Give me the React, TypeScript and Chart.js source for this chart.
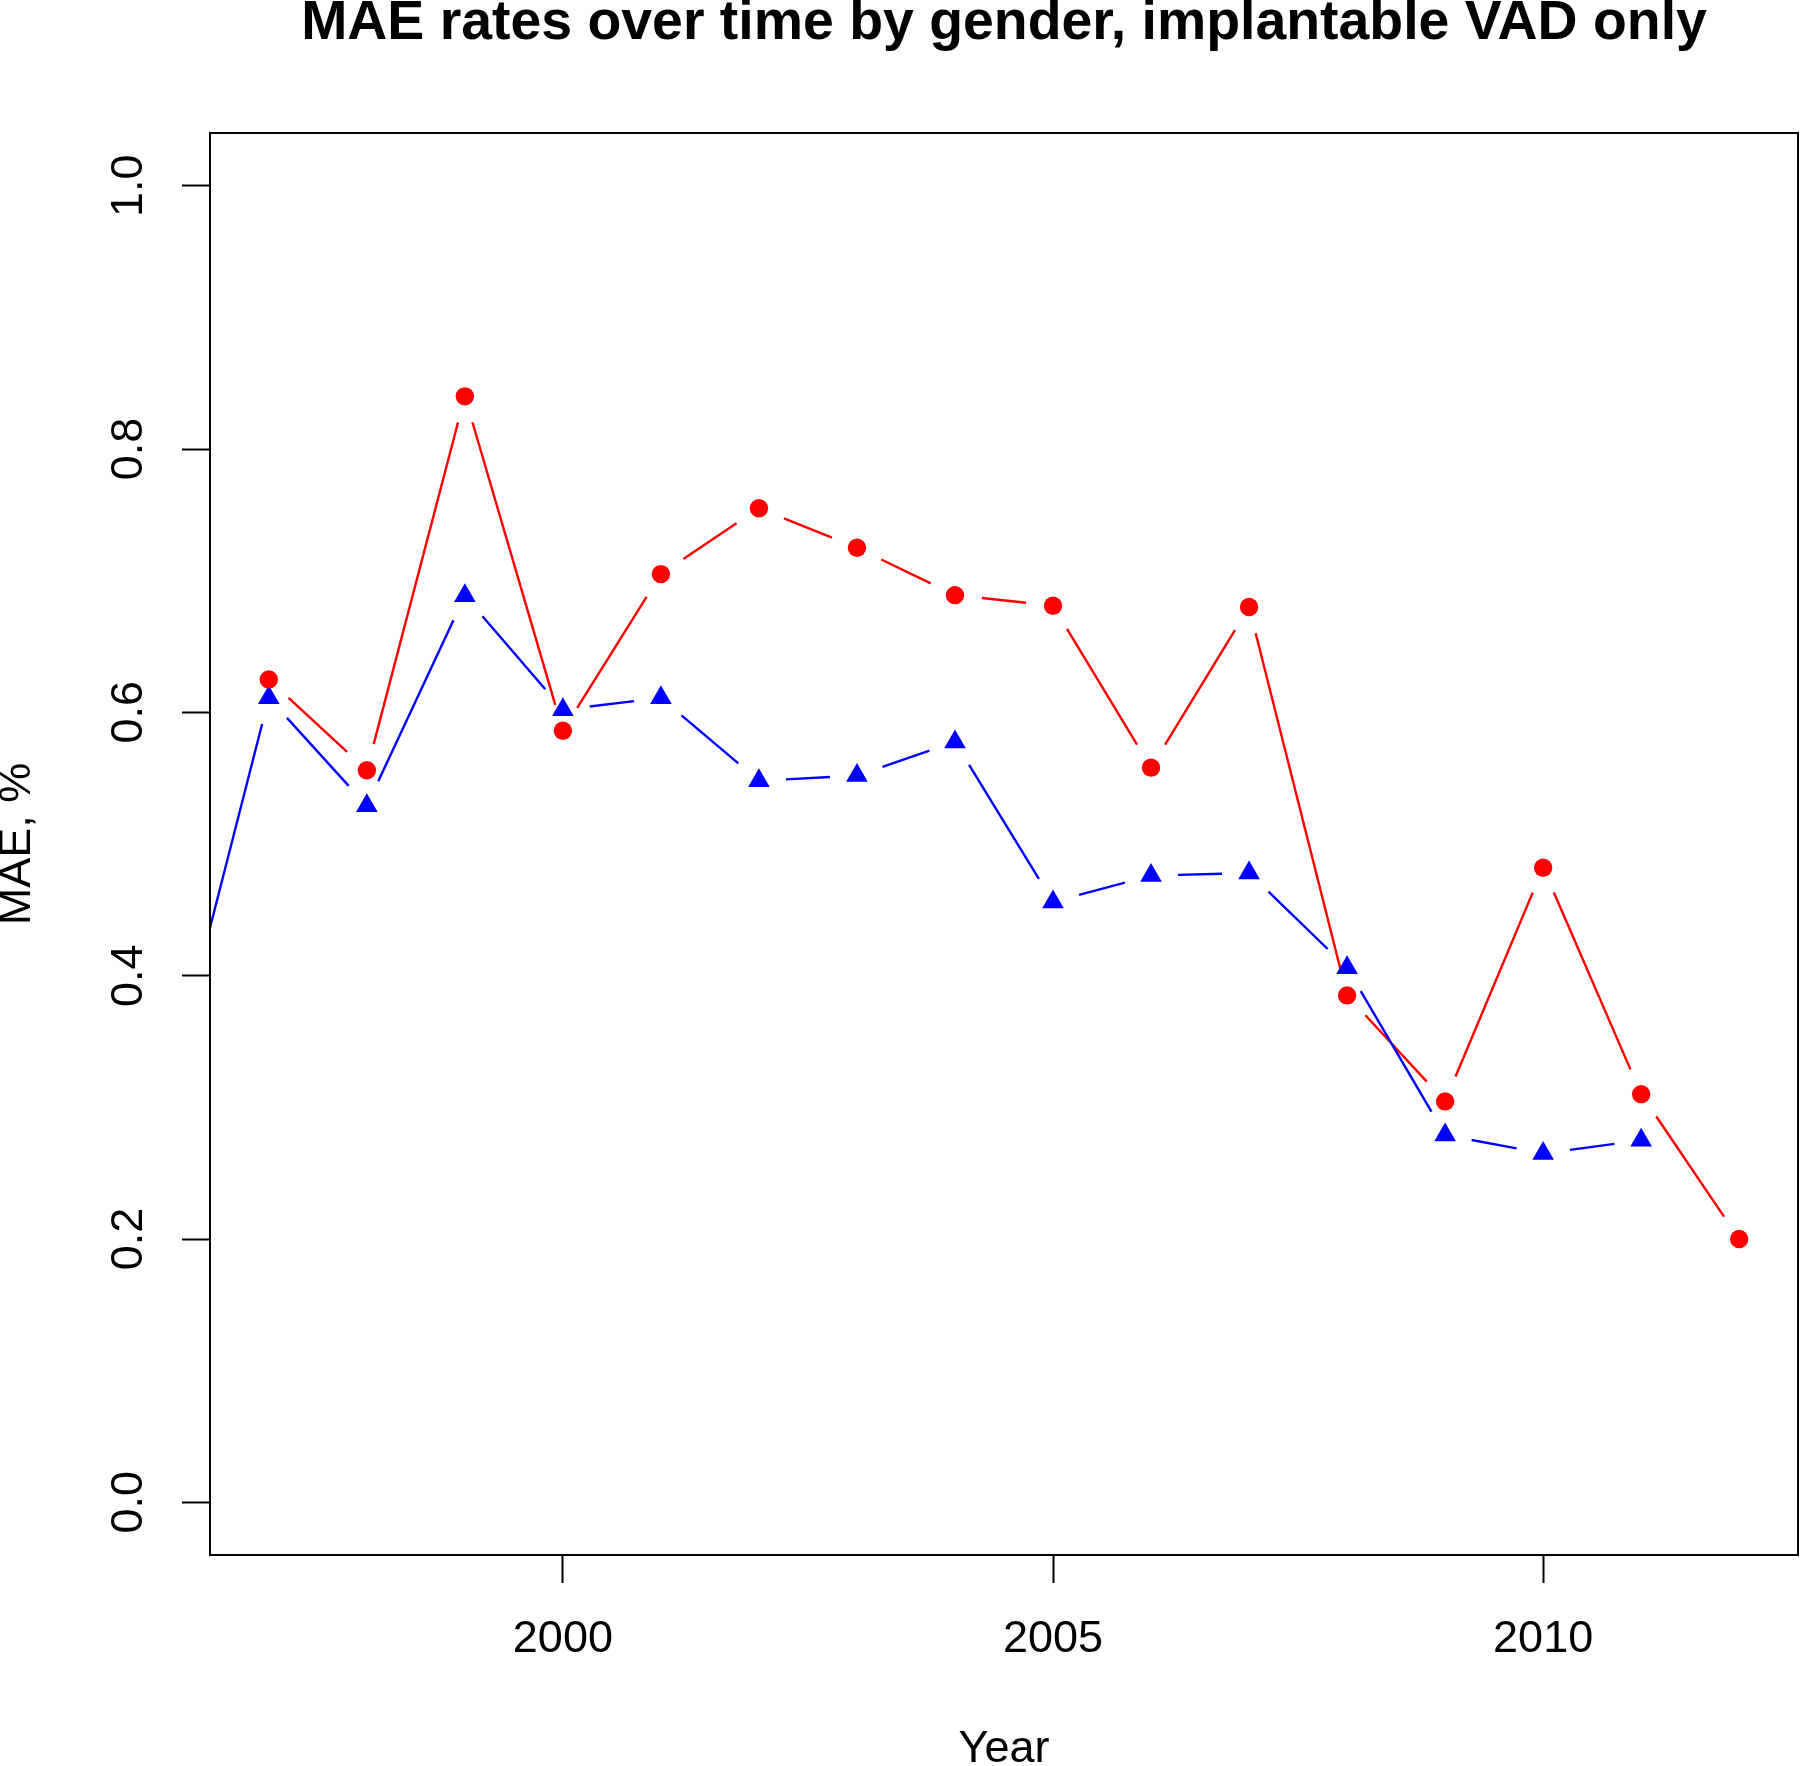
import React, { useEffect, useRef } from "react";
import { Chart, registerables } from "chart.js";

Chart.register(...registerables);

// ---- Data ----
const TITLE = "MAE rates over time by gender, implantable VAD only";
const X_LABEL = "Year";
const Y_LABEL = "MAE, %";

const years = [1996, 1997, 1998, 1999, 2000, 2001, 2002, 2003, 2004, 2005, 2006, 2007, 2008, 2009, 2010, 2011, 2012];
// red circles
const redCircleSeries = [null, 0.625, 0.556, 0.84, 0.586, 0.705, 0.755, 0.725, 0.689, 0.681, 0.558, 0.68, 0.385, 0.3045, 0.482, 0.31, 0.2];
// blue triangles
const blueTriangleSeries = [0.32, 0.611, 0.529, 0.6885, 0.602, 0.611, 0.548, 0.552, 0.5775, 0.456, 0.476, 0.478, 0.406, 0.279, 0.265, 0.275, null];

const xTickValues = [2000, 2005, 2010];
const yTickValues = [0, 0.2, 0.4, 0.6, 0.8, 1.0];

const X_MIN = 1996.4;
const X_MAX = 2012.6;
const Y_MIN = -0.04;
const Y_MAX = 1.04;

// ---- Styles ----
const FONT = "'Liberation Sans', Arial, Helvetica, sans-serif";
const RED = "#FF0000";
const BLUE = "#0000FF";
const LINE_W = 2.4;
const GAP = 27;
const RIGHT_MARGIN = 2;

// keeps the plot region flush with the right margin (as in the reference)
const rightEdgePlugin = {
  id: "rightEdge",
  afterLayout(chart: any) {
    const target = chart.width - RIGHT_MARGIN;
    const ca = chart.chartArea;
    ca.right = target;
    ca.width = target - ca.left;
    const xs = chart.scales.x;
    xs.right = target;
    xs.width = target - xs.left;
    xs.configure();
    const tb = chart.titleBlock;
    if (tb) {
      tb.left = ca.left;
      tb.right = target;
      tb.width = target - ca.left;
    }
  },
};

const gapLinesPlugin = {
  id: "gapLines",
  beforeDatasetsDraw(chart: any) {
    const { ctx, chartArea } = chart;
    ctx.save();
    ctx.beginPath();
    ctx.rect(chartArea.left, chartArea.top, chartArea.right - chartArea.left, chartArea.bottom - chartArea.top);
    ctx.clip();
    chart.data.datasets.forEach((ds: any, di: number) => {
      const meta = chart.getDatasetMeta(di);
      const pts = meta.data;
      ctx.strokeStyle = ds.borderColor;
      ctx.lineWidth = LINE_W;
      ctx.lineCap = "butt";
      for (let i = 0; i < pts.length - 1; i++) {
        const a = pts[i];
        const b = pts[i + 1];
        if (!a || !b || a.skip || b.skip) continue;
        const dx = b.x - a.x;
        const dy = b.y - a.y;
        const len = Math.hypot(dx, dy);
        if (!isFinite(len) || len <= 2 * GAP) continue;
        const ux = dx / len;
        const uy = dy / len;
        ctx.beginPath();
        ctx.moveTo(a.x + ux * GAP, a.y + uy * GAP);
        ctx.lineTo(b.x - ux * GAP, b.y - uy * GAP);
        ctx.stroke();
      }
    });
    ctx.restore();
  },
};

const boxPlugin = {
  id: "plotBox",
  afterDraw(chart: any) {
    const { ctx, chartArea } = chart;
    ctx.save();
    ctx.strokeStyle = "#000";
    ctx.lineWidth = 2;
    ctx.strokeRect(chartArea.left, chartArea.top, chartArea.right - chartArea.left, chartArea.bottom - chartArea.top);
    ctx.restore();
  },
};

export default function App() {
  const canvasRef = useRef<HTMLCanvasElement | null>(null);

  useEffect(() => {
    document.body.style.margin = "0";
    const canvas = canvasRef.current;
    if (!canvas) return;

    const chart = new Chart(canvas, {
      type: "scatter",
      data: {
        datasets: [
          {
            label: "red",
            data: years.map((x, i) => ({ x, y: redCircleSeries[i] })),
            pointStyle: "circle",
            pointRadius: 9.2,
            pointBackgroundColor: RED,
            pointBorderWidth: 0,
            borderColor: RED,
            backgroundColor: RED,
            showLine: false,
            clip: 0,
          } as any,
          {
            label: "blue",
            data: years.map((x, i) => ({ x, y: blueTriangleSeries[i] })),
            pointStyle: "triangle",
            pointRadius: 12.5,
            pointBackgroundColor: BLUE,
            pointBorderWidth: 0,
            borderColor: BLUE,
            backgroundColor: BLUE,
            showLine: false,
            clip: 0,
          } as any,
        ],
      },
      options: {
        responsive: false,
        animation: false,
        devicePixelRatio: 1,
        events: [],
        layout: { padding: { left: 0, right: RIGHT_MARGIN, top: 0, bottom: 0 } },
        plugins: {
          legend: { display: false },
          tooltip: { enabled: false },
          title: {
            display: true,
            text: TITLE,
            fullSize: false,
            color: "#000",
            font: { family: FONT, size: 55.4, weight: "bold", lineHeight: 1 },
            padding: { top: -3.9, bottom: 81.5 },
          },
        },
        scales: {
          x: {
            type: "linear",
            position: "bottom",
            min: X_MIN,
            max: X_MAX,
            afterBuildTicks: (s: any) => {
              s.ticks = xTickValues.map((v) => ({ value: v }));
            },
            afterFit: (s: any) => {
              s.height = 211;
              s.paddingLeft = 0;
              s.paddingRight = 0;
            },
            grid: {
              display: true,
              drawOnChartArea: false,
              drawTicks: true,
              tickLength: 28,
              tickWidth: 2,
              tickColor: "#000",
            },
            border: { display: false },
            ticks: {
              color: "#000",
              font: { family: FONT, size: 45 },
              padding: 29.4,
              minRotation: 0,
              maxRotation: 0,
              autoSkip: false,
              callback: (v: any) => String(v),
            },
            title: {
              display: true,
              text: X_LABEL,
              color: "#000",
              font: { family: FONT, size: 45, lineHeight: 1 },
              padding: { top: 0, bottom: -5.9 },
            },
          },
          y: {
            type: "linear",
            position: "left",
            min: Y_MIN,
            max: Y_MAX,
            afterBuildTicks: (s: any) => {
              s.ticks = yTickValues.map((v) => ({ value: v }));
            },
            afterFit: (s: any) => {
              s.width = 210;
              s.paddingTop = 0;
              s.paddingBottom = 0;
            },
            grid: {
              display: true,
              drawOnChartArea: false,
              drawTicks: true,
              tickLength: 28,
              tickWidth: 2,
              tickColor: "#000",
            },
            border: { display: false },
            ticks: {
              color: "#000",
              font: { family: FONT, size: 45 },
              padding: 21.5,
              minRotation: 90,
              maxRotation: 90,
              crossAlign: "center",
              autoSkip: false,
              callback: (v: any) => Number(v).toFixed(1),
            },
            title: {
              display: true,
              text: Y_LABEL,
              color: "#000",
              font: { family: FONT, size: 45, lineHeight: 1 },
              padding: { top: -4.8, bottom: 0 },
            },
          },
        },
      } as any,
      plugins: [rightEdgePlugin, gapLinesPlugin, boxPlugin],
    });

    return () => {
      chart.destroy();
    };
  }, []);

  return (
    <div style={{ width: 1800, height: 1766, background: "#fff" }}>
      <canvas ref={canvasRef} width={1800} height={1766} style={{ display: "block" }} />
    </div>
  );
}
